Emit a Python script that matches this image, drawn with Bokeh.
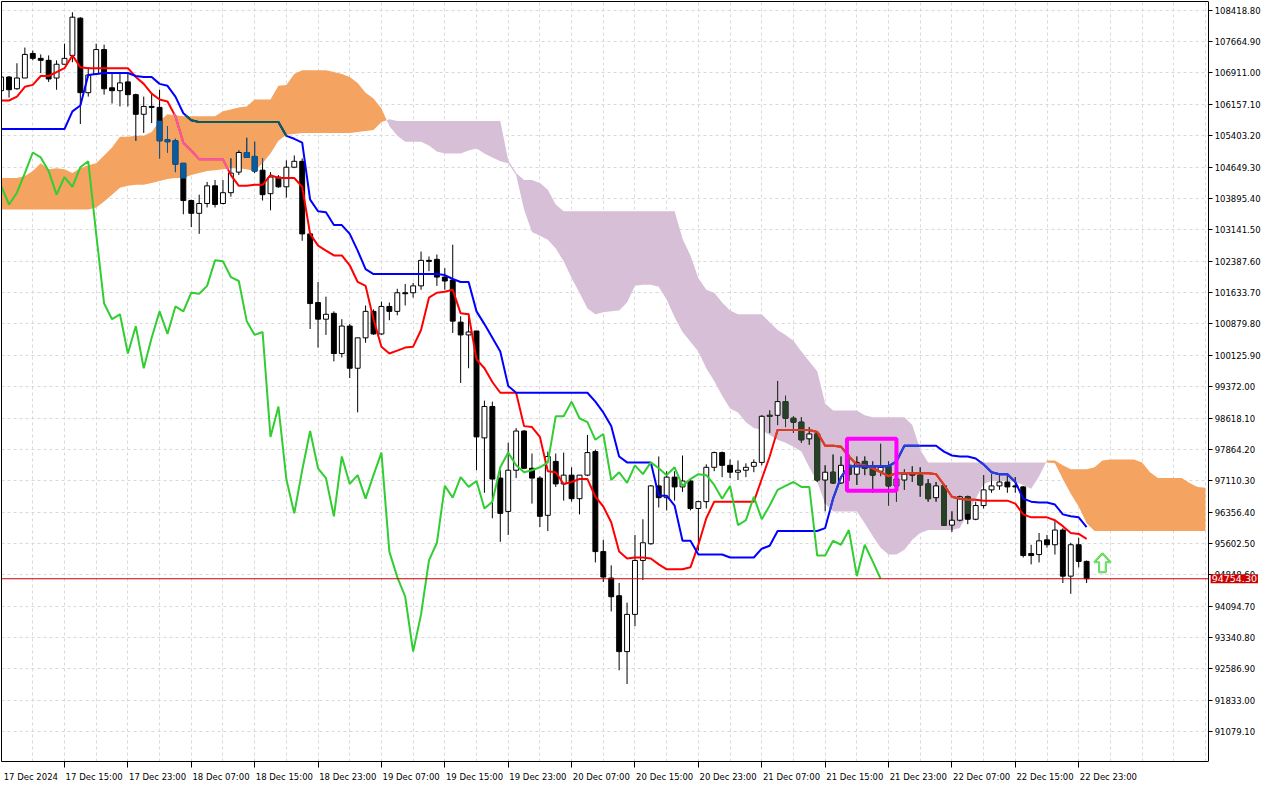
import numpy as np
from bokeh.plotting import figure
from bokeh.models import (Range1d, FixedTicker, PrintfTickFormatter, CustomJSTickFormatter,
                          Label, BoxAnnotation, LinearAxis)
from bokeh.embed import file_html
from bokeh.resources import INLINE

# ---------------- data (BTC/USD H1) ----------------
time_labels = ["17 Dec 2024", "17 Dec 15:00", "17 Dec 23:00", "18 Dec 07:00", "18 Dec 15:00",
               "18 Dec 23:00", "19 Dec 07:00", "19 Dec 15:00", "19 Dec 23:00", "20 Dec 07:00",
               "20 Dec 15:00", "20 Dec 23:00", "21 Dec 07:00", "21 Dec 15:00", "21 Dec 23:00",
               "22 Dec 07:00", "22 Dec 15:00", "22 Dec 23:00"]
label_bars = [0, 8, 16, 24, 32, 40, 48, 56, 64, 72, 80, 88, 96, 104, 112, 120, 128, 136]

price_ticks = [91079.10, 91833.00, 92586.90, 93340.80, 94094.70, 94848.60, 95602.50, 96356.40,
               97110.30, 97864.20, 98618.10, 99372.00, 100125.90, 100879.80, 101633.70, 102387.60,
               103141.50, 103895.40, 104649.30, 105403.20, 106157.10, 106911.00, 107664.90, 108418.80]

open_ = [106485, 106814, 106532, 106790, 107380, 107262, 107215, 106790, 107121, 107333,
         108229, 106438, 106885, 107474, 106555, 106485, 106697, 106390, 105918, 106107,
         106084, 105306, 105282, 104740, 103845, 103538, 103774, 104198, 103774, 104033,
         104528, 105000, 104905, 104575, 104010, 104410, 104175, 104646, 104788, 103043,
         101393, 100993, 101134, 100168, 100828, 99814, 100545, 101181, 100639, 101299,
         101181, 101629, 101629, 101794, 102407, 102431, 102006, 101935, 100922, 100615,
         100710, 98140, 98895, 97174, 96373, 97363, 98305, 97410, 97174, 96279,
         97575, 97033, 97245, 96679, 97245, 97811, 95407, 94770, 94346, 93003,
         93898, 95194, 95596, 96986, 96703, 97197, 96962, 97104, 96444, 96608,
         97433, 97787, 97481, 97315, 97363, 97457, 97551, 98683, 98683, 99012,
         98612, 98518, 98117, 98235, 97127, 97315, 97057, 97481, 97268, 97575,
         97457, 97339, 97457, 96986, 97127, 97292, 97245, 97033, 96703, 96986,
         96043, 96161, 96726, 96184, 96514, 96891, 96986, 97080, 96986, 96962,
         95360, 95336, 95690, 95572, 95925, 94817, 95572, 95171]

high = [106861, 106838, 107145, 107522, 107451, 107357, 107333, 107215, 107616, 108370,
        108252, 107050, 107616, 107592, 106885, 106885, 106885, 106414, 106343, 106414,
        106508, 105636, 105329, 104740, 103868, 103986, 104292, 104339, 104339, 104858,
        105047, 105353, 105259, 104858, 104528, 104457, 104811, 104929, 104858, 103043,
        101888, 101535, 101181, 100993, 100875, 100545, 101322, 101228, 101417, 101393,
        101724, 101841, 101865, 102619, 102501, 102548, 102218, 102784, 101064, 101134,
        100710, 99036, 99012, 97363, 98023, 98376, 98329, 97764, 97221, 97811,
        97764, 97787, 97433, 97245, 98211, 97858, 95690, 95076, 94652, 94181,
        95807, 96184, 97009, 97693, 97339, 97339, 97717, 97151, 96632, 97504,
        97811, 97811, 97622, 97598, 97528, 97622, 98683, 98801, 99508, 99154,
        98659, 98636, 98400, 98258, 97481, 97740, 97693, 97740, 97693, 97693,
        97575, 97999, 97575, 97268, 97386, 97457, 97433, 97151, 97080, 97033,
        96373, 96750, 96750, 96608, 97245, 97268, 97292, 97292, 97197, 96986,
        95572, 95854, 95807, 96137, 95972, 95619, 95737, 95194]

low = [106438, 106319, 106508, 106790, 107215, 106909, 106696, 106508, 107121, 107168,
       105683, 106343, 106885, 106390, 106178, 106107, 106107, 105282, 105471, 105707,
       104858, 105000, 104528, 103515, 103208, 103043, 103679, 103679, 103750, 103939,
       104457, 104882, 104504, 103845, 103609, 104151, 103915, 104622, 102878, 100757,
       100310, 100615, 99979, 100074, 99578, 98754, 100427, 100615, 100615, 100969,
       101087, 101322, 101511, 101700, 102147, 101794, 101700, 100662, 99461, 99814,
       97363, 96821, 96208, 95643, 95807, 97174, 97386, 96561, 95996, 95901,
       96962, 96632, 96608, 96302, 97221, 95147, 94676, 93969, 92554, 92225,
       93615, 94723, 95572, 96467, 96397, 96632, 96844, 96397, 95430, 96444,
       97339, 97197, 97174, 97127, 97197, 97315, 97481, 98258, 98447, 98400,
       98258, 98023, 97976, 97080, 96373, 97033, 97033, 97104, 97009, 97245,
       96821, 97221, 96514, 96608, 96891, 97080, 96726, 96608, 96608, 96030,
       95878, 96137, 96067, 96161, 96444, 96821, 96891, 96821, 96821, 95265,
       95100, 95147, 95501, 95336, 94652, 94393, 95029, 94652]

close = [106814, 106508, 106790, 107357, 107262, 107215, 106767, 107121, 107262, 108252,
         106438, 106861, 107474, 106532, 106485, 106673, 106390, 105918, 106107, 106084,
         105282, 105259, 104717, 103845, 103538, 103774, 104198, 103750, 104033, 104504,
         105000, 104882, 104552, 103986, 104410, 104175, 104646, 104788, 103043, 101369,
         100993, 101111, 100168, 100828, 99814, 100545, 101181, 100639, 101299, 101181,
         101629, 101605, 101794, 102407, 102383, 102006, 101911, 100946, 100615, 100686,
         98164, 98895, 97151, 96326, 97363, 98305, 97410, 97174, 96255, 97693,
         97033, 97245, 96679, 97245, 97787, 95407, 94794, 94322, 93003, 93898,
         95194, 95619, 96986, 96703, 97197, 96962, 97104, 96444, 96608, 97433,
         97787, 97481, 97315, 97363, 97433, 97551, 98659, 98659, 99012, 98612,
         98518, 98094, 98235, 97127, 97315, 97057, 97481, 97268, 97551, 97410,
         97245, 97433, 96986, 97151, 97268, 97245, 97009, 96679, 96986, 96043,
         96161, 96726, 96184, 96514, 96891, 96986, 97080, 96962, 96962, 95312,
         95312, 95666, 95572, 95925, 94817, 95572, 95171, 94754.3]

tenkan = [106249, 106249, 106343, 106579, 106625, 106838, 106838, 106932, 107026, 107333,
          107050, 107026, 107026, 107026, 107026, 107026, 107026, 106814, 106649, 106414,
          106272, 106225, 105872, 105235, 105047, 104835, 104835, 104835, 104835, 104457,
          104198, 104198, 104222, 104222, 104457, 104387, 104387, 104387, 104175, 103043,
          102760, 102642, 102525, 102525, 102289, 101888, 101794, 100993, 100333, 100168,
          100239, 100310, 100333, 100733, 101511, 101629, 101653, 101700, 101134, 101111,
          100026, 99814, 99484, 99225, 99225, 99225, 98423, 98400, 98164, 97339,
          97315, 97033, 97080, 97151, 97151, 96726, 96491, 96114, 95407, 95241,
          95265, 95265, 95241, 95100, 94982, 94982, 94982, 95029, 95572, 96208,
          96608, 96608, 96608, 96608, 96608, 96608, 97151, 97693, 98329, 98329,
          98329, 98329, 98329, 98282, 97952, 97952, 97929, 97693, 97504, 97481,
          97410, 97315, 97221, 97292, 97292, 97292, 97292, 97292, 97268, 97009,
          96726, 96679, 96656, 96656, 96632, 96632, 96632, 96632, 96561, 96302,
          96231, 96231, 96231, 96161, 96019, 95854, 95831, 95713]

kijun = [105565, 105565, 105565, 105565, 105565, 105565, 105565, 105565, 105565, 105989,
         106131, 106861, 106885, 106909, 106909, 106909, 106909, 106838, 106814, 106814,
         106649, 106602, 106343, 105942, 105777, 105730, 105730, 105730, 105730, 105730,
         105730, 105730, 105730, 105730, 105730, 105730, 105400, 105329, 105235, 103868,
         103586, 103562, 103255, 103255, 103043, 102642, 102195, 102077, 102077, 102077,
         102077, 102077, 102077, 102077, 102077, 102077, 102053, 101959, 101888, 101888,
         101181, 100875, 100545, 100215, 99390, 99225, 99225, 99225, 99225, 99225,
         99225, 99225, 99225, 99225, 99225, 99012, 98753, 98423, 97693, 97551,
         97551, 97551, 97551, 96750, 96750, 96514, 95666, 95666, 95336, 95336,
         95336, 95336, 95265, 95265, 95265, 95265, 95477, 95548, 95901, 95901,
         95901, 95901, 95901, 95901, 95972, 96679, 97197, 97457, 97457, 97457,
         97457, 97457, 97457, 97575, 97952, 97952, 97952, 97952, 97952, 97811,
         97717, 97693, 97693, 97646, 97504, 97315, 97268, 97268, 97080, 96679,
         96608, 96585, 96585, 96538, 96302, 96255, 96231, 95996]

# Senkou spans as displayed (already shifted 26 bars forward), bar 0 .. 152
span_a = [104386, 104386, 104386, 104434, 104552, 104740, 104599, 104622, 104599, 104504,
          104622, 104693, 104740, 104929, 105117, 105377, 105377, 105400, 105400, 105494,
          105754, 105918, 105895, 105872, 105872, 105872, 105872, 105872, 105989, 106036,
          106084, 106107, 106272, 106272, 106272, 106602, 106625, 106885, 106979, 106979,
          106979, 106979, 106932, 106885, 106814, 106673, 106438, 106296, 106060, 105636,
          105400, 105259, 105259, 105259, 105165, 105023, 104976, 104976, 104976, 105047,
          105094, 104976, 104882, 104788, 104740, 104457, 103632, 103090, 102996, 102902,
          102690, 102383, 101983, 101629, 101252, 101111, 101158, 101181, 101205, 101393,
          101794, 101818, 101818, 101771, 101464, 101040, 100686, 100451, 100215, 99814,
          99508, 99154, 98848, 98753, 98518, 98376, 98329, 98211, 98094, 98023,
          97929, 97811, 97433, 97080, 96561, 96373, 96373, 96373, 96373, 96090,
          95783, 95501, 95336, 95336, 95454, 95690, 95854, 95925, 95925, 95925,
          95925, 95972, 96326, 96679, 97033, 97104, 97104, 97104, 97080, 97009,
          96915, 97221, 97598, 97598, 97481, 97386, 97386, 97386, 97433, 97598,
          97622, 97622, 97622, 97622, 97551, 97315, 97174, 97174, 97174, 97174,
          97057, 96962, 96939]

span_b = [103632, 103632, 103632, 103632, 103632, 103632, 103632, 103632, 103632, 103632,
          103632, 103632, 103679, 103821, 103986, 104151, 104198, 104222, 104222, 104269,
          104316, 104363, 104386, 104386, 104457, 104504, 104552, 104575, 104599, 104622,
          104622, 104599, 104552, 104740, 104976, 105282, 105424, 105447, 105471, 105471,
          105471, 105471, 105471, 105471, 105471, 105494, 105518, 105542, 105730, 105801,
          105754, 105754, 105754, 105754, 105754, 105754, 105754, 105754, 105754, 105754,
          105754, 105754, 105754, 105754, 104811, 104504, 104339, 104339, 104269, 104104,
          103750, 103586, 103586, 103586, 103586, 103586, 103586, 103586, 103586, 103586,
          103586, 103586, 103586, 103586, 103586, 103586, 102925, 102525, 101983, 101700,
          101629, 101393, 101205, 101111, 101111, 101111, 101111, 100922, 100733, 100615,
          100474, 100215, 99979, 99743, 98966, 98801, 98801, 98801, 98801, 98683,
          98636, 98636, 98636, 98636, 98636, 98447, 97858, 97551, 97551, 97551,
          97551, 97551, 97551, 97551, 97551, 97551, 97551, 97551, 97551, 97551,
          97551, 97551, 97551, 97528, 97151, 96797, 96491, 96090, 95901, 95901,
          95901, 95901, 95901, 95901, 95901, 95901, 95901, 95901, 95901, 95901,
          95901, 95901, 95901]

chikou_shift = 26
last_price = 94754.30
# highlighted rectangle and signal arrow
box_left, box_right, box_top, box_bottom = 106.75, 113.0, 98117, 96868
arrow_bar, arrow_tip, arrow_base = 139, 95360, 94912

# ---------------- figure ----------------
FONT = "DejaVu Sans"
FS = "8.5px"
n = len(close)
idx = np.arange(n)
o = np.array(open_, float); h = np.array(high, float)
l = np.array(low, float); c = np.array(close, float)
A = np.array(span_a, float); B = np.array(span_b, float)
nA = len(A)

x_start = 0.05
x_end = 152.4          # last visible bar position = price scale line
x_max = 159.45         # room on the right for the price scale labels
y_lo, y_hi = 90362, 108629
p = figure(width=1264, height=784, output_backend="svg", toolbar_location=None,
           x_range=Range1d(x_start, x_max), y_range=Range1d(y_lo, y_hi),
           x_axis_location="below", y_axis_location="right",
           min_border=0, min_border_left=1, min_border_top=1, min_border_right=0)
p.background_fill_color = "white"
p.border_fill_color = "white"
p.outline_line_color = None

# grid
p.xgrid.ticker = FixedTicker(ticks=list(range(0, 153, 4)))
for g in (p.xgrid, p.ygrid):
    g.grid_line_color = "#d9d9d9"
    g.grid_line_dash = "3 3"
    g.grid_line_width = 1

# axes
off = 3.75
xt = FixedTicker(ticks=[b + off for b in label_bars], minor_ticks=label_bars)
p.xaxis.ticker = xt
p.xaxis.bounds = (x_start, x_end)
p.xaxis.formatter = CustomJSTickFormatter(args=dict(labels=time_labels, off=off),
    code="const k = Math.round((tick - off) / 8); return (k >= 0 && k < labels.length) ? labels[k] : '';")
p.xaxis.major_tick_line_color = None
p.xaxis.major_tick_out = 0
p.xaxis.major_tick_in = 0
p.xaxis.minor_tick_line_color = "black"
p.xaxis.minor_tick_out = 6
p.xaxis.minor_tick_in = 0
p.xaxis.major_label_standoff = 4

p.yaxis.fixed_location = x_end
p.yaxis.ticker = FixedTicker(ticks=price_ticks)
p.yaxis.formatter = PrintfTickFormatter(format="%.2f")
p.yaxis.minor_tick_line_color = None
p.yaxis.major_tick_out = 4
p.yaxis.major_tick_in = 0
p.yaxis.major_label_standoff = 2
for ax in (p.xaxis, p.yaxis):
    ax.axis_line_color = "black"
    ax.major_label_text_font = FONT
    ax.major_label_text_font_size = FS
    ax.major_label_text_color = "black"
p.yaxis.major_tick_line_color = "black"

# plain border lines on the left and the top of the chart area
for side, bnds in (("left", None), ("above", (x_start, x_end))):
    b_ax = LinearAxis(ticker=FixedTicker(ticks=[]), major_tick_line_color=None,
                      minor_tick_line_color=None, major_label_text_font_size="0px",
                      axis_line_color="black", major_tick_out=0, minor_tick_out=0,
                      major_label_standoff=0)
    if bnds is not None:
        b_ax.bounds = bnds
    p.add_layout(b_ax, side)

# ---------------- cloud (with crossing points) ----------------
xs, ya, yb = [], [], []
for i in range(nA):
    xs.append(float(i)); ya.append(A[i]); yb.append(B[i])
    if i + 1 < nA:
        d0 = A[i] - B[i]; d1 = A[i + 1] - B[i + 1]
        if d0 * d1 < 0:
            t = d0 / (d0 - d1)
            v = A[i] + t * (A[i + 1] - A[i])
            xs.append(i + t); ya.append(v); yb.append(v)
xs = np.array(xs); ya = np.array(ya); yb = np.array(yb)
ORANGE, PURPLE = "#F4A460", "#D8BFD8"
p.varea(x=xs, y1=yb, y2=np.where(ya >= yb, ya, yb), fill_color=ORANGE)
p.varea(x=xs, y1=ya, y2=np.where(yb >= ya, yb, ya), fill_color=PURPLE)

# colours of marks seen through the cloud (cloud drawn with XOR in the terminal)
def xor(col, cloud):
    a = int(col[1:], 16); k = 0xFFFFFF ^ int(cloud[1:], 16)
    return "#%06x" % (a ^ k)

def cloud_at(x):
    a = np.interp(x, np.arange(nA), A); b = np.interp(x, np.arange(nA), B)
    return min(a, b), max(a, b), (ORANGE if a >= b else PURPLE)

# ---------------- candles ----------------
bull = c >= o
body_top = np.maximum(o, c); body_bot = np.minimum(o, c)
p.segment(x0=idx, y0=l, x1=idx, y1=h, line_color="black", line_width=1)

wx, wy0, wy1, wc = [], [], [], []
bx, bt, bb, bcol = [], [], [], []
for i in range(n):
    lo, hi, cc = cloud_at(float(i))
    k = xor("#000000", cc)
    s0, s1 = max(l[i], lo), min(h[i], hi)
    if s1 > s0:
        wx.append(i); wy0.append(s0); wy1.append(s1); wc.append(k)
    if not bull[i]:
        t0, t1 = max(body_bot[i], lo), min(body_top[i], hi)
        if t1 > t0:
            bx.append(i); bt.append(t1); bb.append(t0); bcol.append(k)
if wx:
    p.segment(x0=wx, y0=wy0, x1=wx, y1=wy1, line_color=wc, line_width=1)

p.vbar(x=idx, width=0.62, top=body_top, bottom=body_bot,
       fill_color=["white" if b else "black" for b in bull], line_color="black", line_width=1)
if bx:
    p.vbar(x=bx, width=0.62, top=bt, bottom=bb, fill_color=bcol, line_color=bcol, line_width=1)

# ---------------- Tenkan / Kijun ----------------
def draw_line(vals, color):
    v = np.array(vals, float)
    p.line(idx, v, line_color=color, line_width=2)
    x0, y0, x1, y1, cols = [], [], [], [], []
    sub = 8
    for i in range(len(v) - 1):
        for s in range(sub):
            ta, tb = s / sub, (s + 1) / sub
            tm = (ta + tb) / 2
            vm = v[i] + tm * (v[i + 1] - v[i])
            lo, hi, cc = cloud_at(i + tm)
            if lo <= vm <= hi:
                x0.append(i + ta); y0.append(v[i] + ta * (v[i + 1] - v[i]))
                x1.append(i + tb); y1.append(v[i] + tb * (v[i + 1] - v[i]))
                cols.append(xor(color, cc))
    if x0:
        p.segment(x0=x0, y0=y0, x1=x1, y1=y1, line_color=cols, line_width=2, line_cap="round")

draw_line(tenkan, "#FF0000")
draw_line(kijun, "#0000FF")

# ---------------- Chikou ----------------
p.line(idx[chikou_shift:] - chikou_shift, c[chikou_shift:], line_color="#32CD32", line_width=2)

# ---------------- current price line, arrow ----------------
p.segment(x0=[x_start], y0=[last_price], x1=[x_end], y1=[last_price],
          line_color="#c80000", line_width=1)

head = (arrow_tip - arrow_base) * 0.47
ax_ = arrow_bar
arrow_x = [ax_, ax_ + 1.05, ax_ + 0.42, ax_ + 0.42, ax_ - 0.42, ax_ - 0.42, ax_ - 1.05]
arrow_y = [arrow_tip, arrow_tip - head, arrow_tip - head, arrow_base, arrow_base,
           arrow_tip - head, arrow_tip - head]
p.patch(x=arrow_x, y=arrow_y, fill_color="white", line_color="#44cc22", line_width=2)
p.patch(x=arrow_x, y=arrow_y, fill_color=None, line_color="#aaffee", line_width=0.6)

# blank strip to the right of the price scale line (label area)
p.quad(left=[x_end], right=[x_max], bottom=[y_lo], top=[y_hi],
       fill_color="white", line_color=None)

# ---------------- annotations ----------------
p.add_layout(BoxAnnotation(left=box_left, right=box_right, top=box_top, bottom=box_bottom,
                           fill_color=None, fill_alpha=0, line_color="#FF00FF",
                           line_alpha=1.0, line_width=4))

price_text = "%.2f" % last_price
lbl_kw = dict(x=x_end, y=last_price, x_offset=2, text=price_text,
              text_color="white", text_font=FONT, text_font_size="9.5px",
              text_baseline="middle", text_align="left",
              background_fill_color="#cc0000", background_fill_alpha=1.0)
if "padding" in Label.properties():
    lbl_kw["padding"] = 1
p.add_layout(Label(**lbl_kw))

open("out.html", "w").write(file_html(p, INLINE, title="BTCUSD H1 Ichimoku"))
